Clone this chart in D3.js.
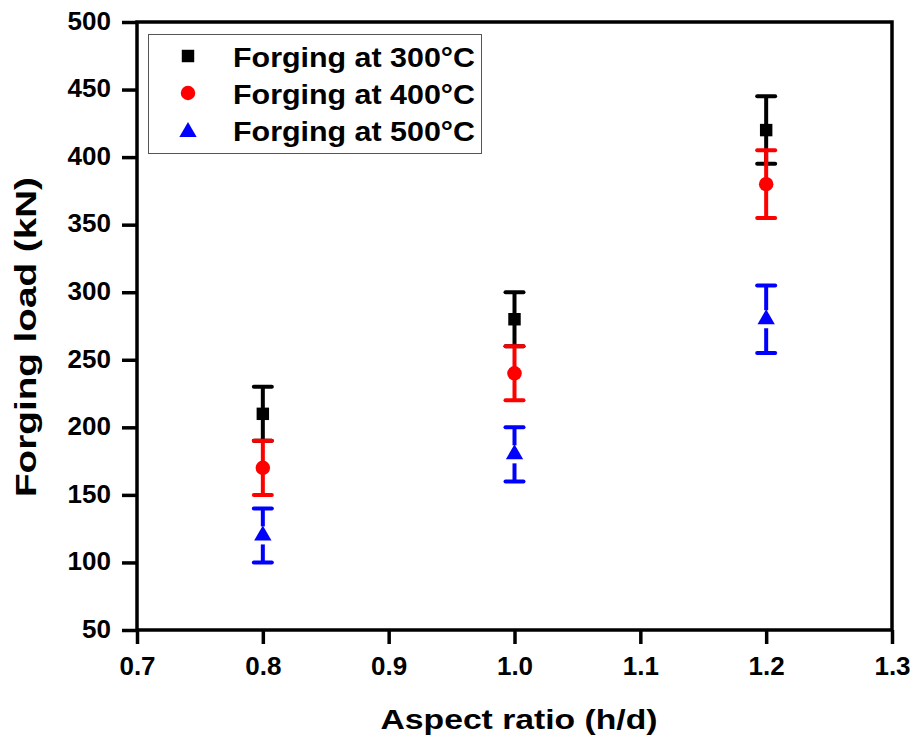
<!DOCTYPE html>
<html>
<head>
<meta charset="utf-8">
<script src="https://cdn.jsdelivr.net/npm/d3@7"></script>
<style>
  body { margin: 0; background: #fff; }
  text { font-family: Arial, "Liberation Sans", sans-serif; font-weight: bold; }
</style>
</head>
<body>
<div id="chart"></div>
<script>
// Data
const aspectRatios = [0.8, 1.0, 1.2];
const seriesNames = ['Forging at 300\u00B0C', 'Forging at 400\u00B0C', 'Forging at 500\u00B0C'];
const load300 = [210, 280, 420];
const err300 = [20, 20, 25];
const load400 = [170, 240, 380];
const err400 = [20, 20, 25];
const load500 = [120, 180, 280];
const err500 = [20, 20, 25];
const xTicks = [0.7, 0.8, 0.9, 1.0, 1.1, 1.2, 1.3];
const yTicks = [50, 100, 150, 200, 250, 300, 350, 400, 450, 500];

const W = 915, H = 743;
const margin = { top: 22, right: 23, bottom: 113, left: 137 };

const svg = d3.select('#chart').append('svg')
  .attr('width', W).attr('height', H);

const x = d3.scaleLinear().domain([0.7, 1.3]).range([margin.left, W - margin.right]);
const y = d3.scaleLinear().domain([50, 500]).range([H - margin.bottom, margin.top]);

const series = [
  { name: seriesNames[0], values: load300, errs: err300, color: '#000000', shape: 'square', gap: 0 },
  { name: seriesNames[1], values: load400, errs: err400, color: '#ff0000', shape: 'circle', gap: 0 },
  { name: seriesNames[2], values: load500, errs: err500, color: '#0000ff', shape: 'triangle', gap: 9 },
];

function markerPath(shape) {
  if (shape === 'square') return d3.symbol().type(d3.symbolSquare).size(155)();
  if (shape === 'circle') return d3.symbol().type(d3.symbolCircle).size(165)();
  return d3.symbol().type(d3.symbolTriangle).size(130)();
}

// Axes
const yAxis = svg.append('g')
  .attr('transform', `translate(${margin.left},0)`)
  .call(d3.axisLeft(y).tickValues(yTicks).tickSize(15).tickPadding(11).tickFormat(d3.format('d')));
const xAxis = svg.append('g')
  .attr('transform', `translate(0,${H - margin.bottom})`)
  .call(d3.axisBottom(x).tickValues(xTicks).tickSize(14).tickPadding(13).tickFormat(d3.format('.1f')));

[yAxis, xAxis].forEach(g => {
  g.select('.domain').remove();
  g.selectAll('.tick line').attr('stroke', '#000').attr('stroke-width', 3.5);
  g.selectAll('.tick text').attr('font-size', 26).attr('fill', '#000')
    .attr('font-family', 'Arial, "Liberation Sans", sans-serif').attr('font-weight', 'bold');
});
yAxis.selectAll('.tick text').attr('dy', '0.28em');

// Frame
svg.append('rect')
  .attr('x', x(0.7)).attr('y', y(500))
  .attr('width', x(1.3) - x(0.7)).attr('height', y(50) - y(500))
  .attr('fill', 'none').attr('stroke', '#000').attr('stroke-width', 3.5);

// Error bars + markers
const capHalf = 9;
series.forEach(s => {
  const g = svg.append('g').attr('fill', s.color).attr('stroke', s.color);
  s.values.forEach((v, i) => {
    const cx = x(aspectRatios[i]);
    const cy = y(v);
    const top = y(v + s.errs[i]);
    const bot = y(v - s.errs[i]);
    g.append('line').attr('x1', cx).attr('x2', cx).attr('y1', top).attr('y2', cy - s.gap)
      .attr('stroke-width', 4);
    g.append('line').attr('x1', cx).attr('x2', cx).attr('y1', cy + s.gap).attr('y2', bot)
      .attr('stroke-width', 4);
    [top, bot].forEach(yy => {
      g.append('line').attr('x1', cx - capHalf).attr('x2', cx + capHalf)
        .attr('y1', yy).attr('y2', yy).attr('stroke-width', 4).attr('stroke-linecap', 'round');
    });
    g.append('path').attr('d', markerPath(s.shape))
      .attr('transform', `translate(${cx},${cy})`).attr('stroke', 'none');
  });
});

// Legend
const legend = svg.append('g');
legend.append('rect')
  .attr('x', 148.5).attr('y', 34.5).attr('width', 333).attr('height', 119)
  .attr('fill', '#fff').attr('stroke', '#555').attr('stroke-width', 1);
const rowY = [56, 93, 130];
series.forEach((s, i) => {
  legend.append('path').attr('d', markerPath(s.shape))
    .attr('transform', `translate(188,${rowY[i] + (s.shape === 'triangle' ? 2 : 0)})`)
    .attr('fill', s.color);
  legend.append('text')
    .attr('x', 233).attr('y', rowY[i] + 10.5)
    .attr('font-size', 28).attr('fill', '#000')
    .attr('textLength', 242).attr('lengthAdjust', 'spacingAndGlyphs')
    .text(s.name);
});

// Axis titles
svg.append('text')
  .attr('x', 519).attr('y', 729)
  .attr('text-anchor', 'middle').attr('font-size', 28)
  .attr('textLength', 277).attr('lengthAdjust', 'spacingAndGlyphs')
  .text('Aspect ratio (h/d)');
svg.append('text')
  .attr('transform', 'translate(35.5,337) rotate(-90)')
  .attr('text-anchor', 'middle').attr('font-size', 29)
  .attr('textLength', 320).attr('lengthAdjust', 'spacingAndGlyphs')
  .text('Forging load (kN)');
</script>
</body>
</html>
